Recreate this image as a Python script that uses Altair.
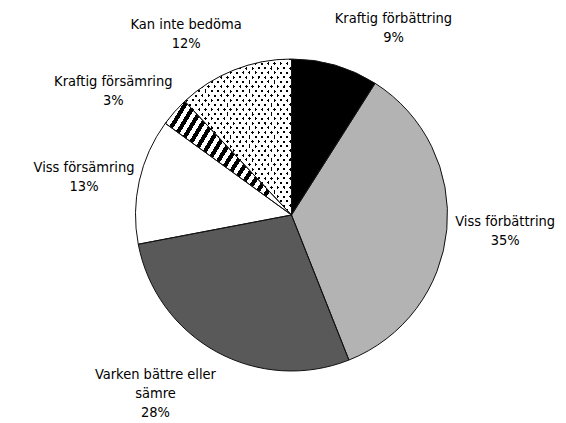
import math
import textwrap
import altair as alt
import pandas as pd

# ---- data ----
categories = [
    "Kraftig förbättring",
    "Viss förbättring",
    "Varken bättre eller sämre",
    "Viss försämring",
    "Kraftig försämring",
    "Kan inte bedöma",
]
values = [9, 35, 28, 13, 3, 12]

# ---- styles ----
fill_colors = ["#000000", "#b3b3b3", "#595959", "#ffffff", "#ffffff", "#000000"]
STRIPED = "Kraftig försämring"
DOTTED = "Kan inte bedöma"
R = 156
FONT = "DejaVu Sans Condensed, DejaVu Sans, sans-serif"
FS = 14.5
LH = 19
CW = 5.8      # approx. char width used for label placement
LR = 168      # label anchor radius
K = 1.45

lines = [textwrap.wrap(c, 19) + [f"{v}%"] for c, v in zip(categories, values)]
df = pd.DataFrame({
    "cat": categories,
    "value": values,
    "order": list(range(len(categories))),
    "label": ["\n".join(l) for l in lines],
    "nlines": [len(l) for l in lines],
    "maxchars": [max(len(s) for s in l) for l in lines],
})


def stripes(n, c1, c2, duty, x1, y1, x2, y2):
    stops = []
    for i in range(n):
        a = i / n
        b = (i + duty) / n
        c = (i + 1) / n
        stops += [
            {"offset": a, "color": c1},
            {"offset": b, "color": c1},
            {"offset": b, "color": c2},
            {"offset": c, "color": c2},
        ]
    return {"gradient": "linear", "x1": x1, "y1": y1, "x2": x2, "y2": y2, "stops": stops}


stripe_fill = stripes(17, "#000000", "#ffffff", 0.5, 0, 0, 1, 0.55)
clear = "rgba(255,255,255,0)"
dots_a = stripes(34, "#ffffff", clear, 0.62, 0, 0, 1, 1)
dots_b = stripes(34, "#ffffff", clear, 0.62, 0, 1, 1, 0)

theta_scale = alt.Scale(domain=[0, 100], range=[0, 2 * math.pi])

base = alt.Chart(df).transform_window(
    end="sum(value)", sort=[alt.SortField("order")], frame=[None, 0]
).transform_calculate(
    start="datum.end - datum.value"
).transform_calculate(
    mid="datum.end - datum.value / 2"
)

enc = dict(
    theta=alt.Theta("start:Q", scale=theta_scale, stack=None),
    theta2="end:Q",
)

pie = base.mark_arc(radius=R).encode(
    fill=alt.Fill("cat:N", scale=alt.Scale(domain=categories, range=fill_colors), legend=None),
    **enc,
)

striped = base.transform_filter(alt.datum.cat == STRIPED).mark_arc(
    radius=R, fill=stripe_fill
).encode(**enc)

dot1 = base.transform_filter(alt.datum.cat == DOTTED).mark_arc(
    radius=R, fill=dots_a
).encode(**enc)
dot2 = base.transform_filter(alt.datum.cat == DOTTED).mark_arc(
    radius=R, fill=dots_b
).encode(**enc)

outline = base.mark_arc(
    radius=R, fill="transparent", stroke="#111111", strokeWidth=1
).encode(**enc)

# label anchor: just outside the slice's mid angle, pushed out by the label box;
# Vega puts the first line at the anchor, so lift multi-line blocks by half their extra lines
labels = base.transform_calculate(
    a="datum.mid / 100 * 2 * PI"
).transform_calculate(
    w=f"datum.maxchars * {CW}"
).transform_calculate(
    h=f"datum.nlines * {LH}"
).transform_calculate(
    ax=f"{LR} * sin(datum.a) + (sin(datum.a) >= 0 ? 1 : -1) * datum.w / 2"
).transform_calculate(
    ay=(f"-{LR} * cos(datum.a) - cos(datum.a) * abs(cos(datum.a)) * datum.h / 2 * {K}"
        f" - (datum.nlines - 1) * {LH} / 2")
).transform_calculate(
    lt="(atan2(datum.ax, -datum.ay) / (2 * PI) * 100 + 100) % 100"
).transform_calculate(
    lr="sqrt(datum.ax * datum.ax + datum.ay * datum.ay)"
).mark_text(
    font=FONT, fontSize=FS, lineHeight=LH, lineBreak="\n",
    align="center", baseline="middle", color="#000000",
).encode(
    theta=alt.Theta("lt:Q", scale=theta_scale, stack=None),
    radius=alt.Radius("lr:Q", scale=None),
    text="label:N",
)

chart = alt.layer(pie, striped, dot1, dot2, outline, labels).properties(
    width=533,
    height=414,
    padding={"left": 17, "top": 0, "right": 0, "bottom": 0},
    autosize="none",
    background="#ffffff",
).configure_view(stroke=None)

chart.save("out.html", embed_options={"renderer": "svg", "actions": False})
